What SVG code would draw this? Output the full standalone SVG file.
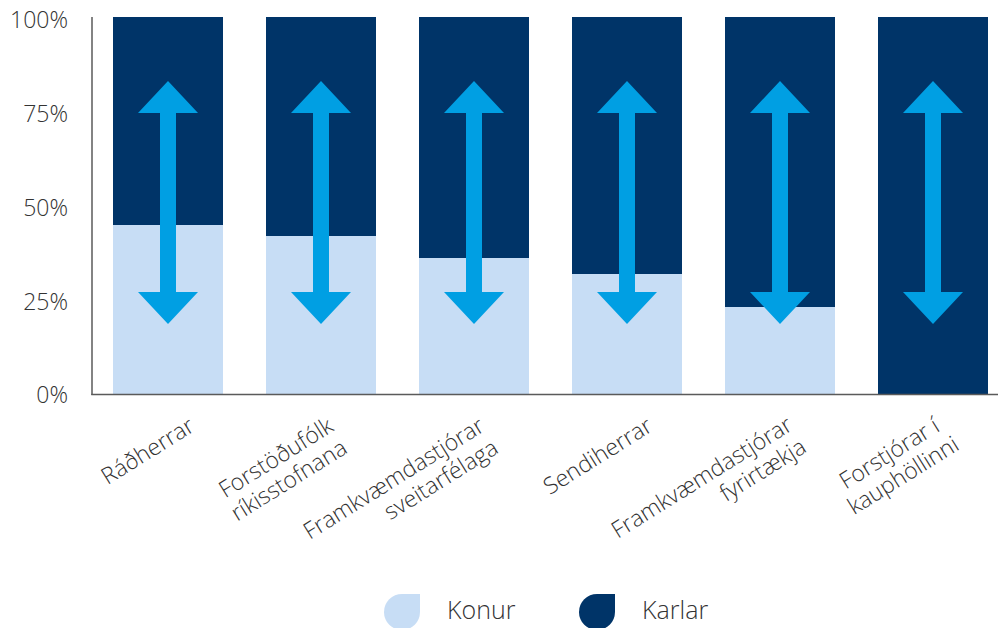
<svg xmlns="http://www.w3.org/2000/svg" xmlns:xlink="http://www.w3.org/1999/xlink" width="998" height="628" viewBox="0 0 998 628">
  <style>
    text { font-family: "Open Sans", "Noto Sans", "Liberation Sans", sans-serif; font-weight: 300; fill: #333333; }
    .tick { font-size: 23px; text-anchor: end; }
    .cat { font-size: 23px; text-anchor: end; }
    .catm { font-size: 23px; text-anchor: middle; }
    .leg { font-size: 25px; }
    .men { fill: #003468; }
    .women { fill: #c7ddf5; }
    .arrow { fill: #009fe3; }
    .axis { stroke: #5a5a5a; stroke-width: 1.5; fill: none; }
  </style>
  <defs>
    <path id="dblarrow" d="M0,81 L30,113 L8,113 L8,292 L30,292 L0,324 L-30,292 L-8,292 L-8,113 L-30,113 Z"/>
  </defs>
  <rect width="998" height="628" fill="#ffffff"/>

  <g id="y-axis-labels">
    <text class="tick" x="68" y="28">100%</text>
    <text class="tick" x="68" y="122">75%</text>
    <text class="tick" x="68" y="216">50%</text>
    <text class="tick" x="68" y="310">25%</text>
    <text class="tick" x="68" y="403">0%</text>
  </g>

  <g id="bar-radherrar">
    <rect class="men" x="113" y="17" width="110" height="377"/>
    <rect class="women" x="113" y="225" width="110" height="169"/>
  </g>
  <g id="bar-forstodufolk">
    <rect class="men" x="266" y="17" width="110" height="377"/>
    <rect class="women" x="266" y="236" width="110" height="158"/>
  </g>
  <g id="bar-framkv-sveitarfelaga">
    <rect class="men" x="419" y="17" width="110" height="377"/>
    <rect class="women" x="419" y="258" width="110" height="136"/>
  </g>
  <g id="bar-sendiherrar">
    <rect class="men" x="572" y="17" width="110" height="377"/>
    <rect class="women" x="572" y="274" width="110" height="120"/>
  </g>
  <g id="bar-framkv-fyrirtaekja">
    <rect class="men" x="725" y="17" width="110" height="377"/>
    <rect class="women" x="725" y="307" width="110" height="87"/>
  </g>
  <g id="bar-forstjorar">
    <rect class="men" x="878" y="17" width="110" height="377"/>
  </g>

  <g id="connectors">
    <use xlink:href="#dblarrow" href="#dblarrow" class="arrow" transform="translate(168,0)"/>
    <use xlink:href="#dblarrow" href="#dblarrow" class="arrow" transform="translate(321,0)"/>
    <use xlink:href="#dblarrow" href="#dblarrow" class="arrow" transform="translate(474,0)"/>
    <use xlink:href="#dblarrow" href="#dblarrow" class="arrow" transform="translate(627,0)"/>
    <use xlink:href="#dblarrow" href="#dblarrow" class="arrow" transform="translate(780,0)"/>
    <use xlink:href="#dblarrow" href="#dblarrow" class="arrow" transform="translate(933,0)"/>
  </g>

  <g id="axes">
    <line class="axis" x1="92" y1="17" x2="92" y2="395"/>
    <line class="axis" x1="91.25" y1="394.5" x2="998" y2="394.5"/>
  </g>

  <g id="label-radherrar" transform="translate(196,430) rotate(-32)">
    <text class="cat" x="0" y="0">Ráðherrar</text>
  </g>
  <g id="label-forstodufolk" transform="translate(335,430) rotate(-32)">
    <text class="cat" x="0" y="0">Forstöðufólk</text>
    <text class="cat" x="0" y="26">ríkisstofnana</text>
  </g>
  <g id="label-framkv-sveitarfelaga" transform="translate(486,430) rotate(-32)">
    <text class="cat" x="0" y="0">Framkvæmdastjórar</text>
    <text class="cat" x="0" y="26">sveitarfélaga</text>
  </g>
  <g id="label-sendiherrar" transform="translate(654,430) rotate(-32)">
    <text class="cat" x="0" y="0">Sendiherrar</text>
  </g>
  <g id="label-framkv-fyrirtaekja" transform="translate(794,429) rotate(-32)">
    <text class="cat" x="0" y="0">Framkvæmdastjórar</text>
    <text class="cat" x="0" y="26">fyrirtækja</text>
  </g>
  <g id="label-forstjorar" transform="translate(893.5,460) rotate(-32)">
    <text class="catm" x="0" y="0">Forstjórar í</text>
    <text class="catm" x="0" y="26">kauphöllinni</text>
  </g>

  <g id="legend">
    <g id="legend-konur">
      <path class="women" d="M420,594 L420,612 A18,18 0 0 1 402,630 A18,18 0 0 1 384,612 A18,18 0 0 1 402,594 Z"/>
      <text class="leg" x="447" y="619">Konur</text>
    </g>
    <g id="legend-karlar">
      <path class="men" d="M615,594 L615,612 A18,18 0 0 1 597,630 A18,18 0 0 1 579,612 A18,18 0 0 1 597,594 Z"/>
      <text class="leg" x="642" y="619">Karlar</text>
    </g>
  </g>
</svg>
